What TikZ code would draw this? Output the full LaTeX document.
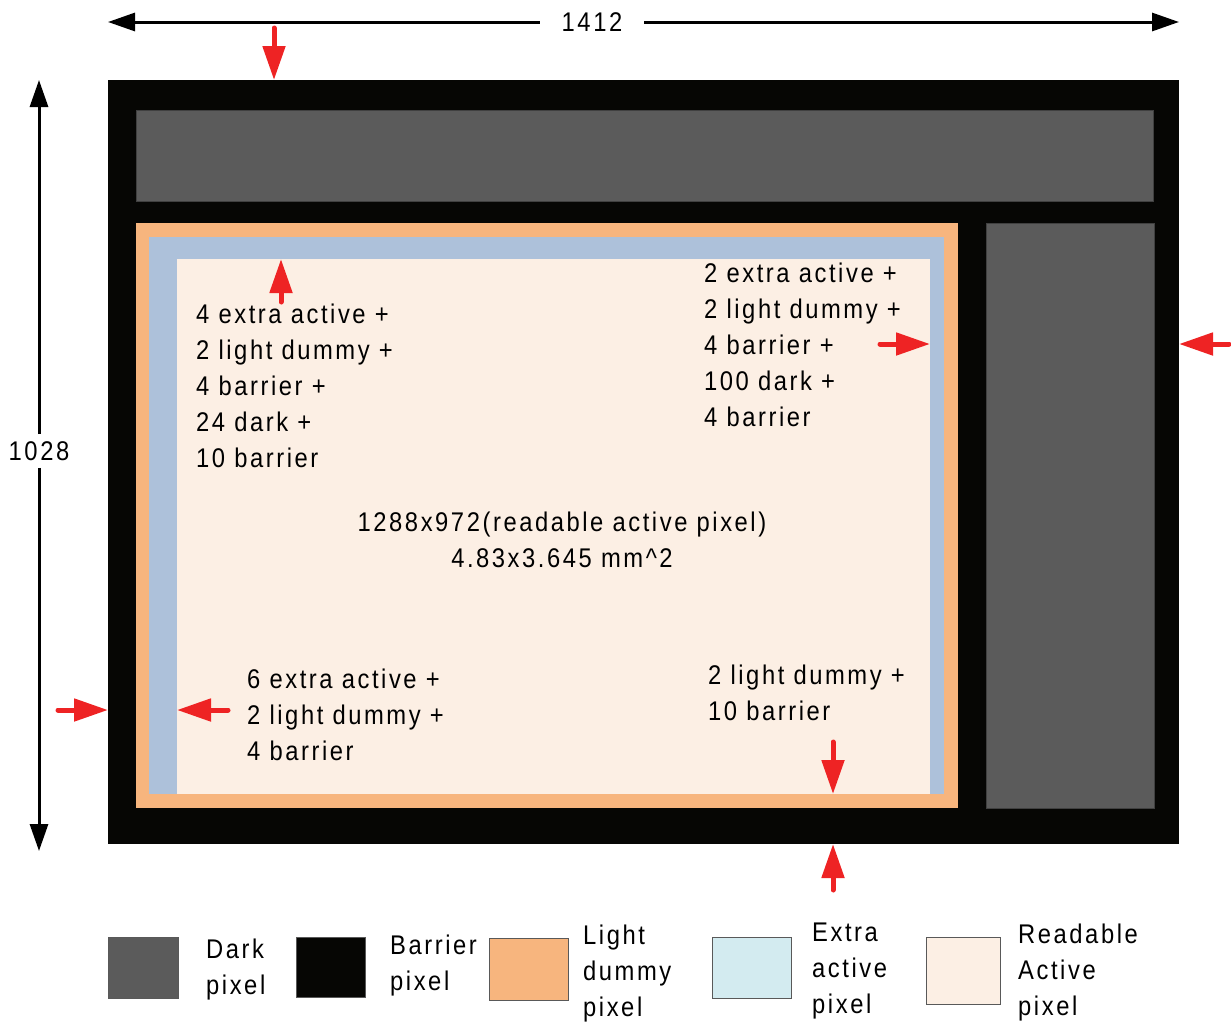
\documentclass[tikz,border=0pt]{standalone}
\usepackage{fontspec}
\setmainfont{Liberation Sans}[FakeStretch=0.88,LetterSpace=9.5]
\usetikzlibrary{arrows.meta}

\definecolor{darkpx}{HTML}{5B5B5B}
\definecolor{barrierpx}{HTML}{060604}
\definecolor{dummypx}{HTML}{F7B57E}
\definecolor{extrapx}{HTML}{ADC1DA}
\definecolor{extralegend}{HTML}{D3EBF0}
\definecolor{activepx}{HTML}{FCEFE4}
\definecolor{markred}{HTML}{EE2324}

\tikzset{
  region/.style={anchor=north west, inner sep=0pt, outer sep=0pt},
  txtblock/.style={anchor=base west, align=left, inner sep=0pt, font=\fontsize{27}{36}\selectfont},
  dimtext/.style={fill=white, font=\fontsize{27}{36}\selectfont},
  dimarrow/.style={line width=3pt, -{Triangle[length=27pt,width=18pt]}},
  redarrow/.style={markred, line width=5pt, line cap=round, -{Triangle[length=34pt,width=22pt]}},
  legendbox/.style={anchor=north west, inner sep=0pt, draw=black!65, line width=1pt}
}

\begin{document}
\begin{tikzpicture}[x=1pt,y=-1pt]

\useasboundingbox (0,0) rectangle (1231,1023);

% Pixel array regions (top-left corner, width, height)
\node[region, fill=barrierpx, minimum width=1071pt, minimum height=764pt] (frame) at (108,80) {};
\node[region, fill=darkpx, draw=black!75, minimum width=1017pt, minimum height=91pt] (topdark) at (136,110) {};
\node[region, fill=darkpx, draw=black!75, minimum width=168pt, minimum height=585pt] (sidedark) at (986,223) {};
\node[region, fill=dummypx, minimum width=822pt, minimum height=585pt] (dummy) at (136,223) {};
\node[region, fill=extrapx, minimum width=795pt, minimum height=557pt] (extra) at (149,237) {};
\node[region, fill=activepx, minimum width=753pt, minimum height=535pt] (active) at (177,259) {};

% Overall size
\node[dimtext, inner xsep=22pt] (widthlbl) at (592,22) {1412};
\node[dimtext, inner xsep=2pt, inner ysep=7pt] (heightlbl) at (39,451) {1028};
\coordinate (wleft) at (108,22);
\coordinate (wright) at (1179,22);
\coordinate (htop) at (39,80);
\coordinate (hbot) at (39,851);
\draw[dimarrow] (widthlbl) -- (wleft);
\draw[dimarrow] (widthlbl) -- (wright);
\draw[dimarrow] (heightlbl) -- (htop);
\draw[dimarrow] (heightlbl) -- (hbot);

% Red markers: vertical ones
\coordinate (topout) at (274,28);
\coordinate (topin) at (281,302);
\coordinate (botin) at (833,742);
\coordinate (botout) at (833,890);
\foreach \from/\to in {topout/frame.north, topin/active.north, botin/active.south, botout/frame.south}
  \draw[redarrow] (\from) -- (\from |- \to);

% Red markers: horizontal ones
\coordinate (rightin) at (880,344);
\coordinate (rightout) at (1229,344);
\coordinate (leftout) at (58,710);
\coordinate (leftin) at (228,710);
\foreach \from/\to in {rightin/active.east, rightout/frame.east, leftout/frame.west, leftin/active.west}
  \draw[redarrow] (\from) -- (\from -| \to);

% Pixel counts (placed at the baseline of the last line)
\node[txtblock] (counttl) at (196,467) {4 extra active +\\2 light dummy +\\4 barrier +\\24 dark +\\10 barrier};
\node[txtblock] (counttr) at (704,426) {2 extra active +\\2 light dummy +\\4 barrier +\\100 dark +\\4 barrier};
\node[txtblock, anchor=base, align=center] (countmid) at (562,567) {1288x972(readable active pixel)\\4.83x3.645 mm\textasciicircum 2};
\node[txtblock] (countbl) at (247,760) {6 extra active +\\2 light dummy +\\4 barrier};
\node[txtblock] (countbr) at (708,720) {2 light dummy +\\10 barrier};

% Legend
\foreach \key/\col/\bx/\by/\bw/\bh/\tx/\ty/\txt in {
    dark/darkpx/108/937/70/61/206/994/{Dark\\pixel},
    barrier/barrierpx/296/937/69/60/390/990/{Barrier\\pixel},
    dummy/dummypx/489/938/79/62/583/1016/{Light\\dummy\\pixel},
    extra/extralegend/712/937/79/61/812/1013/{Extra\\active\\pixel},
    active/activepx/926/937/74/67/1018/1015/{Readable\\Active\\pixel}} {
  \node[legendbox, fill=\col, minimum width=\bw pt, minimum height=\bh pt] (legend-\key) at (\bx,\by) {};
  \node[txtblock] (legendtxt-\key) at (\tx,\ty) {\txt};
}

\end{tikzpicture}
\end{document}
